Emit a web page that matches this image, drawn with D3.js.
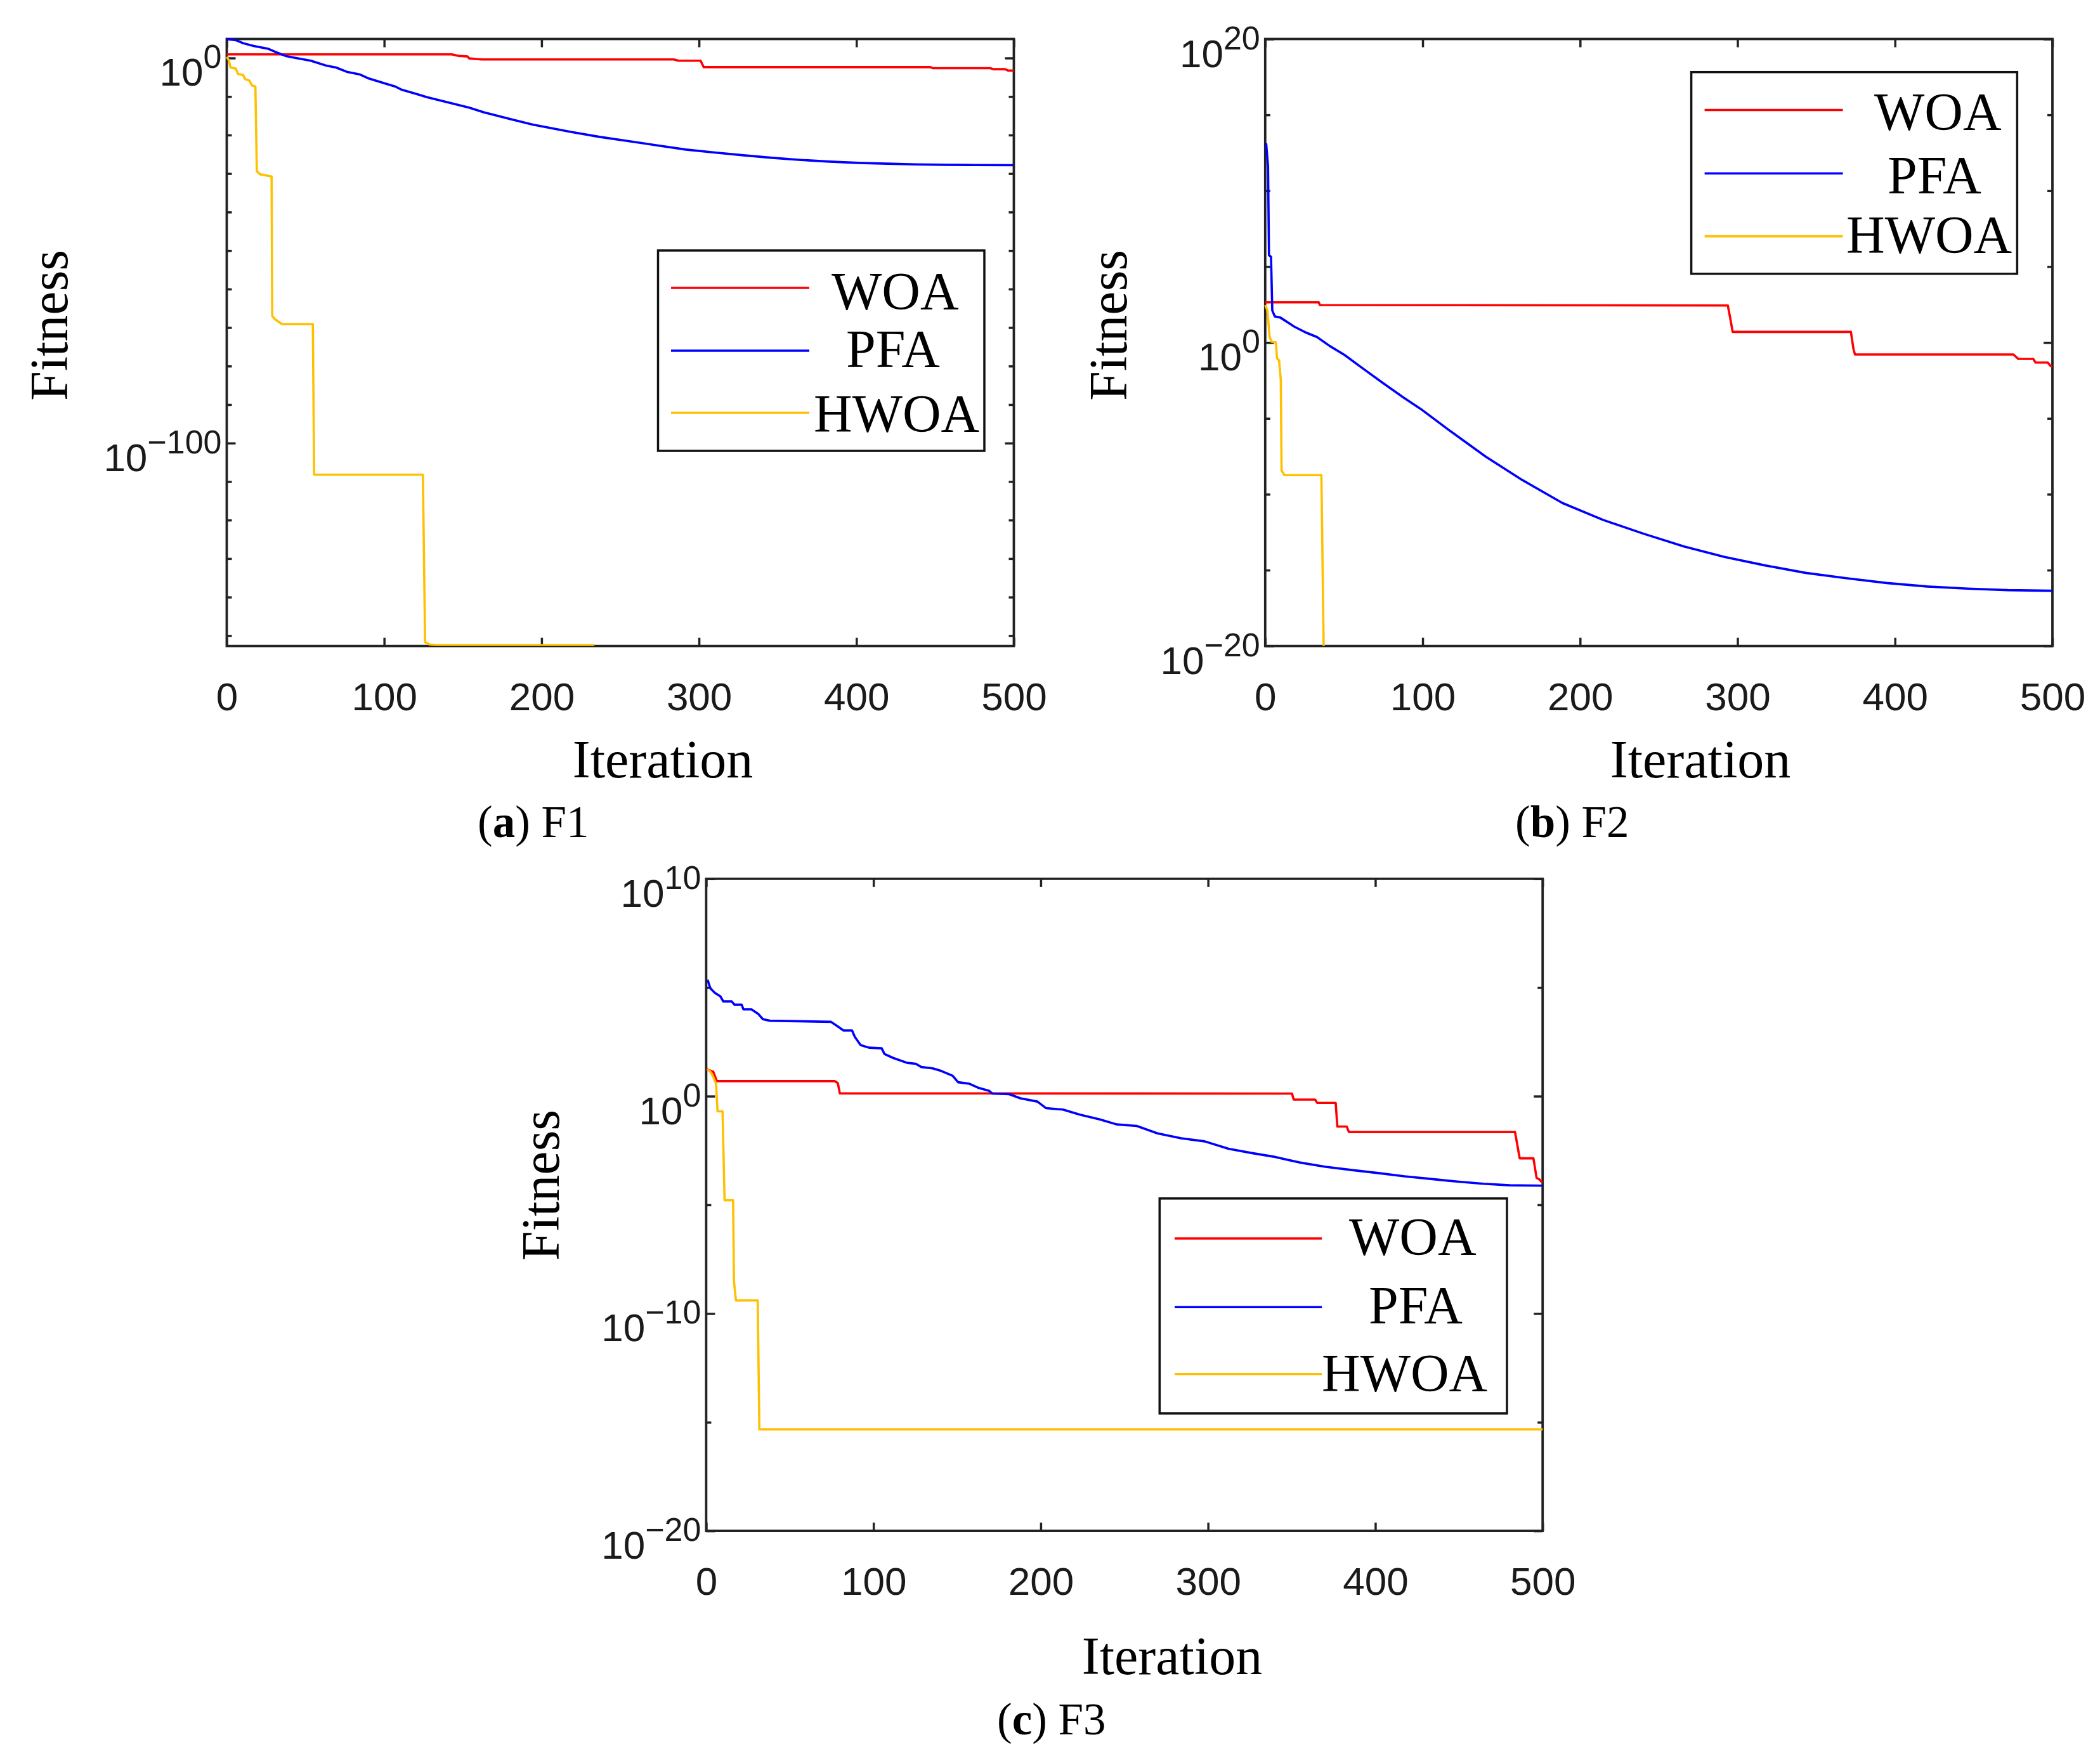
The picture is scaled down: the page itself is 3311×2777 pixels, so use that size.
<!DOCTYPE html>
<html>
<head>
<meta charset="utf-8">
<script src="https://cdn.jsdelivr.net/npm/d3@7"></script>
<style>
  body { margin: 0; background: #fff; }
  .tick-label { font-family: "Liberation Sans", Arial, sans-serif; fill: #1a1a1a; }
  .title { font-family: "Liberation Serif", "Times New Roman", serif; fill: #000; }
</style>
</head>
<body>
<svg id="chart"></svg>
<script>
const W = 3311, H = 2777;

// iteration axis
const xTicks = [0, 100, 200, 300, 400, 500];

// fitness values are kept as log10(fitness): [iteration, log10]
const woaF1 = [[0,0.94],[143,0.94],[147,0.56],[153,0.4],[154,-0.1],[162,-0.37],[284,-0.38],[287,-0.71],[301,-0.71],[303,-2.36],[447,-2.36],[448.4,-2.63],[485,-2.63],[487,-2.9],[494.4,-2.9],[496.2,-3.23],[500,-3.25]];
const pfaF1 = [[0,4.94],[6.4,4.56],[10.4,3.85],[17.1,3.13],[26.5,2.37],[30.5,1.65],[37.3,0.55],[44,0],[53.4,-0.71],[62.8,-1.92],[69.5,-2.47],[76.2,-3.57],[84.3,-4.23],[89.6,-5.22],[100.4,-6.59],[107.1,-7.41],[111.2,-8.24],[120.6,-9.34],[127.2,-10.16],[140.6,-11.53],[154,-12.9],[163.5,-14.11],[167.5,-14.55],[180.9,-15.93],[194.4,-17.3],[218.6,-19.2],[236.9,-20.48],[255.1,-21.58],[273.4,-22.68],[291.7,-23.78],[309.9,-24.55],[328.2,-25.26],[346.5,-25.92],[364.7,-26.47],[383,-26.9],[401.3,-27.23],[419.6,-27.45],[437.8,-27.62],[456.1,-27.73],[474.4,-27.78],[500,-27.84]];
const hwoaF1 = [[0,0.28],[1.3,-0.55],[2.4,-2.47],[5.7,-2.74],[7.1,-4.1],[10.4,-4.4],[11.7,-5.5],[14.4,-5.87],[16,-7.13],[18.2,-7.4],[19.1,-29.4],[21.2,-30.2],[28.5,-30.75],[28.9,-67.0],[30.8,-67.9],[35,-69.1],[54.7,-69.1],[55.5,-108.2],[124.6,-108.2],[126,-151.7],[128.9,-152.3],[133,-152.5],[233.5,-152.5]];

const woaF2 = [[0,2.65],[34,2.65],[34.7,2.47],[293.8,2.44],[295.1,1.75],[296.9,0.7],[372,0.7],[373.6,-0.41],[374.6,-0.79],[475.2,-0.79],[478.3,-1.08],[487.8,-1.08],[489.3,-1.32],[497,-1.32],[498.9,-1.56],[500,-1.56]];
const pfaF2 = [[0.6,13.13],[1.8,11.6],[2.4,5.75],[3.7,5.65],[4.5,2.11],[6.1,1.72],[9.5,1.65],[12.8,1.43],[18.2,1.06],[26.2,0.64],[32.9,0.36],[41,-0.23],[50.4,-0.82],[61.1,-1.64],[74.5,-2.65],[87.9,-3.63],[98.8,-4.38],[116.8,-5.78],[140,-7.52],[163.1,-9.05],[188.8,-10.58],[214.6,-11.69],[240.3,-12.6],[266,-13.44],[291.7,-14.13],[317.5,-14.69],[343.2,-15.18],[368.9,-15.53],[394.7,-15.85],[420.4,-16.08],[446.1,-16.22],[471.8,-16.32],[500,-16.36]];
const hwoaF2 = [[0,2.47],[1.4,2.11],[2.8,0.36],[4.1,0.05],[6.8,0],[7.5,-1.05],[8.8,-1.17],[9.9,-2.46],[10.4,-8.44],[12.2,-8.74],[35.7,-8.74],[37.2,-20.6]];

const woaF3 = [[0,1.24],[4.2,1.13],[6.4,0.69],[77,0.69],[78.7,0.6],[79.9,0.13],[350.2,0.12],[351.2,-0.16],[364,-0.16],[365.3,-0.31],[376.3,-0.31],[377.3,-1.4],[382.9,-1.4],[384.2,-1.65],[483.5,-1.65],[486.3,-2.86],[494.5,-2.86],[496.4,-3.76],[498,-3.83],[499.2,-3.93],[500,-3.95]];
const pfaF3 = [[0.8,5.36],[2.5,4.96],[5.1,4.76],[8.5,4.59],[10.2,4.36],[15.2,4.36],[16.9,4.21],[21.2,4.21],[22.3,3.99],[27.1,3.99],[31.3,3.77],[33.9,3.54],[38.1,3.47],[74.5,3.42],[77.9,3.25],[82.1,3.02],[87.2,3.02],[88.9,2.72],[92.3,2.35],[97.3,2.23],[104.9,2.2],[106.6,1.94],[111.7,1.76],[120.2,1.53],[125.3,1.49],[128.6,1.34],[135.4,1.28],[140.5,1.16],[147.3,0.94],[150.6,0.64],[157.4,0.57],[162.5,0.39],[169.2,0.24],[171,0.12],[181.1,0.09],[187.9,-0.1],[198,-0.25],[203.1,-0.55],[213.3,-0.62],[223.4,-0.85],[235.3,-1.07],[245.4,-1.3],[257.3,-1.37],[269.8,-1.71],[283.9,-1.94],[298,-2.08],[312.2,-2.42],[326.3,-2.62],[338.9,-2.78],[354.6,-3.05],[370.3,-3.25],[386.1,-3.4],[401.8,-3.54],[417.5,-3.69],[433.2,-3.81],[448.9,-3.93],[464.7,-4.03],[480.4,-4.1],[500,-4.12]];
const hwoaF3 = [[0.8,1.24],[2.5,1.13],[4.2,0.89],[5.9,0.57],[6.8,-0.7],[9.8,-0.7],[11,-4.79],[16.1,-4.79],[16.6,-8.51],[17.8,-9.4],[30.8,-9.4],[31.8,-15.33],[500,-15.33]];

// y axis decades (exponents) with tick marks, and the ones that carry a label
const f1YTicks = [0,-10,-20,-30,-40,-50,-60,-70,-80,-90,-100,-110,-120,-130,-140,-150];
const f1YLabels = [0,-100];
const f2YTicks = [20,15,10,5,0,-5,-10,-15,-20];
const f2YLabels = [20,0,-20];
const f3YTicks = [10,5,0,-5,-10,-15,-20];
const f3YLabels = [10,0,-10,-20];

const seriesNames = ["WOA", "PFA", "HWOA"];
const seriesColors = ["#ff0000", "#0000ff", "#ffc000"];

const panels = [
  { key: "a", fn: "F1", box: [357.5, 61.5, 1241, 957.2], yExp: [-152.7, 4.94],
    yTicks: f1YTicks, yLabels: f1YLabels, series: [woaF1, pfaF1, hwoaF1],
    fitX: 106, fitY: 513, iterX: 1045, iterY: 1226, capX: 753, capY: 1320,
    leg: { box: [1037.5, 395, 514.5, 316], lx: [1058, 1276], ly: [454, 553, 651],
           tx: [1311, 1334, 1283], ty: [488, 579, 681] } },
  { key: "b", fn: "F2", box: [1994.8, 61.5, 1241.2, 957.2], yExp: [-20, 20],
    yTicks: f2YTicks, yLabels: f2YLabels, series: [woaF2, pfaF2, hwoaF2],
    fitX: 1776, fitY: 513, iterX: 2681, iterY: 1226, capX: 2389, capY: 1320,
    leg: { box: [2666.6, 113.7, 513.8, 318], lx: [2687.6, 2905.6], ly: [173.5, 273.5, 372.6],
           tx: [2955, 2976, 2911], ty: [205, 305, 399] } },
  { key: "c", fn: "F3", box: [1113.4, 1385.8, 1318.8, 1028.3], yExp: [-20, 10],
    yTicks: f3YTicks, yLabels: f3YLabels, series: [woaF3, pfaF3, hwoaF3],
    fitX: 881, fitY: 1869, iterX: 1848, iterY: 2640, capX: 1572, capY: 2735,
    leg: { box: [1828.3, 1889.9, 547.7, 339], lx: [1852, 2084], ly: [1953, 2061.3, 2166.7],
           tx: [2127, 2158, 2084], ty: [1979, 2087, 2194] } }
];

const svg = d3.select("#chart").attr("width", W).attr("height", H)
  .attr("viewBox", `0 0 ${W} ${H}`);

const axisColor = "#222";

panels.forEach(p => {
  const [x0, y0, w, h] = p.box;
  const x = d3.scaleLinear().domain([0, 500]).range([x0, x0 + w]);
  const y = d3.scaleLog().domain([Math.pow(10, p.yExp[0]), Math.pow(10, p.yExp[1])]).range([y0 + h, y0]);
  const g = svg.append("g");

  g.append("clipPath").attr("id", "clip-" + p.key)
    .append("rect").attr("x", x0 - 2).attr("y", y0 - 2).attr("width", w + 4).attr("height", h + 2);

  const styleAxis = sel => {
    sel.select(".domain").remove();
    sel.selectAll(".tick line").attr("stroke", axisColor).attr("stroke-width", 3.5);
  };

  // x ticks (inward, bottom and top)
  g.append("g").attr("transform", `translate(0,${y0 + h})`)
    .call(d3.axisBottom(x).tickValues(xTicks).tickSize(-13).tickSizeOuter(0).tickPadding(57).tickFormat(d3.format("d")))
    .call(styleAxis)
    .call(s => s.selectAll("text").attr("class", "tick-label").attr("font-size", 62).attr("fill", "#1a1a1a"));
  g.append("g").attr("transform", `translate(0,${y0})`)
    .call(d3.axisTop(x).tickValues(xTicks).tickSize(-13).tickSizeOuter(0).tickFormat(""))
    .call(styleAxis);

  // y ticks: labelled decades are longer
  const major = p.yTicks.filter(e => p.yLabels.includes(e)).map(e => Math.pow(10, e));
  const minor = p.yTicks.filter(e => !p.yLabels.includes(e)).map(e => Math.pow(10, e));
  [[major, 14], [minor, 8]].forEach(([vals, len]) => {
    g.append("g").attr("transform", `translate(${x0},0)`)
      .call(d3.axisLeft(y).tickValues(vals).tickSize(-len).tickSizeOuter(0).tickFormat(""))
      .call(styleAxis);
    g.append("g").attr("transform", `translate(${x0 + w},0)`)
      .call(d3.axisRight(y).tickValues(vals).tickSize(-len).tickSizeOuter(0).tickFormat(""))
      .call(styleAxis);
  });

  // y labels 10^k
  const lab = g.append("g").selectAll("text").data(p.yLabels).enter()
    .append("text")
    .attr("class", "tick-label")
    .attr("text-anchor", "end")
    .attr("x", x0 - 8)
    .attr("y", d => y(Math.pow(10, d)) + 44)
    .attr("font-size", 62)
    .text("10");
  lab.append("tspan").attr("dy", -28).attr("font-size", 52)
    .text(d => (d < 0 ? "\u2212" : "") + Math.abs(d));

  // box
  g.append("rect").attr("x", x0).attr("y", y0).attr("width", w).attr("height", h)
    .attr("fill", "none").attr("stroke", axisColor).attr("stroke-width", 3.8);

  // lines, drawn over the box like the original
  const line = d3.line().x(d => x(d[0])).y(d => y(Math.pow(10, d[1])));
  g.append("g").attr("clip-path", `url(#clip-${p.key})`)
    .selectAll("path").data(p.series).enter()
    .append("path")
    .attr("d", line)
    .attr("fill", "none")
    .attr("stroke", (d, i) => seriesColors[i])
    .attr("stroke-width", 3.6)
    .attr("stroke-linejoin", "round");

  // axis titles
  g.append("text").attr("class", "title").attr("font-size", 84)
    .attr("text-anchor", "middle").attr("x", p.iterX).attr("y", p.iterY).text("Iteration");
  g.append("text").attr("class", "title").attr("font-size", 84)
    .attr("text-anchor", "middle")
    .attr("transform", `translate(${p.fitX},${p.fitY}) rotate(-90)`).text("Fitness");

  // caption
  const cap = g.append("text").attr("class", "title").attr("font-size", 71)
    .attr("x", p.capX).attr("y", p.capY);
  cap.append("tspan").text("(");
  cap.append("tspan").attr("font-weight", "bold").text(p.key);
  cap.append("tspan").text(") " + p.fn);

  // legend
  const L = p.leg;
  const lg = g.append("g");
  lg.append("rect").attr("x", L.box[0]).attr("y", L.box[1]).attr("width", L.box[2]).attr("height", L.box[3])
    .attr("fill", "#fff").attr("stroke", "#111").attr("stroke-width", 3.5);
  lg.selectAll("line").data(seriesNames).enter().append("line")
    .attr("x1", L.lx[0]).attr("x2", L.lx[1])
    .attr("y1", (d, i) => L.ly[i]).attr("y2", (d, i) => L.ly[i])
    .attr("stroke", (d, i) => seriesColors[i]).attr("stroke-width", 3.6);
  lg.selectAll("text").data(seriesNames).enter().append("text")
    .attr("class", "title").attr("font-size", 84)
    .attr("x", (d, i) => L.tx[i]).attr("y", (d, i) => L.ty[i])
    .text(d => d);
});
</script>
</body>
</html>
